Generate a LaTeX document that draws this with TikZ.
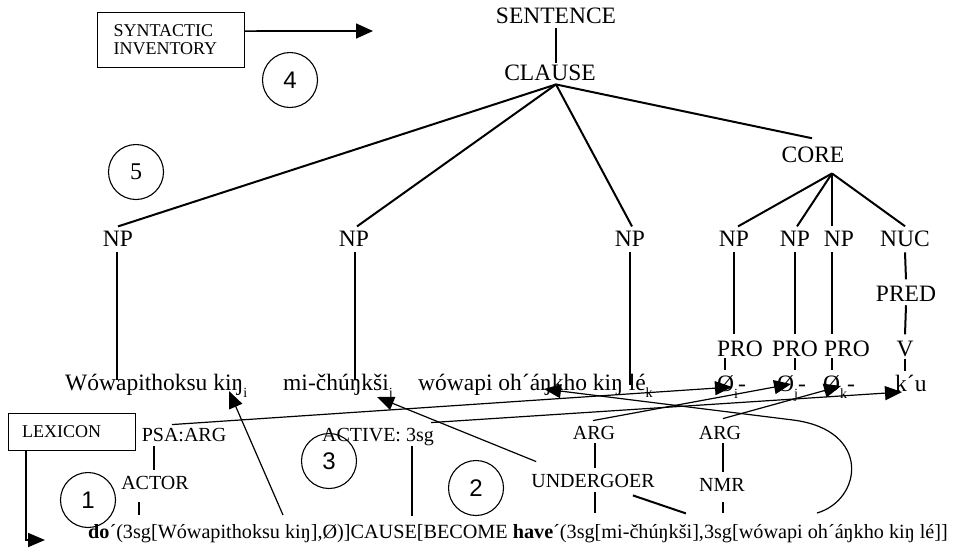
\documentclass[tikz,border=0pt]{standalone}
\usepackage{fontspec}
\setmainfont{Liberation Serif}
\newfontfamily\digitsans{Liberation Sans}
\usetikzlibrary{arrows.meta,calc}

% small lowered index letters (coreference subscripts)
\newcommand\lowsub[1]{\raisebox{-0.3em}{\fontsize{14pt}{14pt}\selectfont #1}}

\begin{document}
\begin{tikzpicture}[x=1pt,y=-1pt,
  tree/.style={font=\fontsize{23.5pt}{26pt}\selectfont, inner sep=0pt, anchor=base},
  word/.style={font=\fontsize{23.5pt}{26pt}\selectfont, inner sep=0pt, anchor=base west},
  role/.style={font=\fontsize{20pt}{22pt}\selectfont, inner sep=0pt, anchor=base},
  branch/.style={line width=2pt},
  link/.style={line width=1.2pt, -{Triangle[length=17pt,width=14pt]}},
  numcirc/.style={circle, draw, line width=1.1pt, minimum size=55pt, inner sep=0pt,
                  font=\digitsans\fontsize{24pt}{24pt}\selectfont},
  infobox/.style={draw, line width=1.1pt, font=\fontsize{18pt}{18pt}\selectfont,
                  align=left, anchor=north west, inner ysep=0pt}
]
\useasboundingbox[fill=white] (0,0) rectangle (955,547);

% ---------- component boxes ----------
\node[infobox, text width=115pt, inner xsep=16pt, minimum height=55pt] (synbox) at (97,12)
  {SYNTACTIC\\INVENTORY};
\node[infobox, text width=100pt, inner xsep=13.5pt, minimum height=37pt] (lexbox) at (8,413)
  {LEXICON};
\coordinate (synTip) at (373,31);
\coordinate (lexTip) at (45,540);
\draw[link, line width=1.6pt, -{Triangle[length=17pt,width=15pt]}] ($(synbox.east)+(0,-9)$) -- (synTip);
\draw[link, line width=1.8pt] ($(lexbox.south west)+(18,0)$) |- (lexTip);

% ---------- numbered steps ----------
\node[numcirc] (c4) at (290,80) {4};
\node[numcirc, font=\fontsize{24pt}{24pt}\selectfont] (c5) at (136,172) {5};
\node[numcirc] (c1) at (88,500) {1};
\node[numcirc] (c3) at (329,461) {3};
\node[numcirc] (c2) at (476,488) {2};

% ---------- layered structure of the clause ----------
\node[tree] (sentence) at (556,23) {SENTENCE};
\node[tree] (clause) at (550,80) {CLAUSE};
\node[tree] (core) at (813,162) {CORE};
\node[tree] (np1) at (118,246) {NP};
\node[tree] (np2) at (354,246) {NP};
\node[tree] (np3) at (630,246) {NP};
\node[tree] (np4) at (734,246) {NP};
\node[tree] (np5) at (795,246) {NP};
\node[tree] (np6) at (839,246) {NP};
\node[tree] (nuc) at (905,246) {NUC};
\node[tree] (pred) at (906,301) {PRED};
\node[tree] (pro1) at (740,356) {PRO};
\node[tree] (pro2) at (795,356) {PRO};
\node[tree] (pro3) at (847,356) {PRO};
\node[tree] (vv) at (905,356) {V};

\node[word] (w1) at (65,390) {Wówapithoksu kiŋ\lowsub{i}};
\node[word] (w2) at (283,390) {mi-čhúŋkši\lowsub{j}};
\node[word] (w3) at (418,390) {wówapi oh´áŋkho kiŋ lé\lowsub{k}};
\node[word] (oi) at (717,391) {Ø\lowsub{i}-};
\node[word] (oj) at (777,391) {Ø\lowsub{j}-};
\node[word] (ok) at (823,391) {Ø\lowsub{k}-};
\node[word] (ku) at (895,391) {k´u};

\coordinate (clauseJ) at ($(clause.south)+(6,4)$);
\coordinate (coreJ) at ($(core.south)+(19,11)$);

\draw[branch] ($(sentence.south)+(0,5)$) -- ($(sentence.south |- clause.north)+(0,-1)$);
\draw[branch] (clauseJ) -- ($(np1.north)+(0,-4)$);
\draw[branch] (clauseJ) -- ($(np2.north)+(3,-4)$);
\draw[branch] (clauseJ) -- ($(np3.north)+(2,-4)$);
\draw[branch] (clauseJ) -- ($(core.north)+(-1,-8)$);
\draw[branch] (coreJ) -- ($(np4.north)+(4,-4)$);
\draw[branch] (coreJ) -- ($(np5.north)+(2,-4)$);
\draw[branch] (coreJ) -- ($(coreJ |- np6.north)+(0,-4)$);
\draw[branch] (coreJ) -- ($(nuc.north)+(0,-4)$);

\draw[branch] ($(np1.south)+(-1,6)$) -- ($(np1.south |- w1.base)+(-1,-10)$);
\draw[branch] ($(np2.south)+(1,6)$) -- ($(np2.south |- w2.base)+(1,-10)$);
\draw[branch] ($(np3.south)+(0,6)$) -- ($(np3.south |- w3.base)+(0,-5)$);
\draw[branch] ($(np4.south)+(0,6)$) -- ($(np4.south |- pro1.north)+(0,-6)$);
\draw[branch] ($(np5.south)+(0,6)$) -- ($(pro2.north)+(0,-6)$);
\draw[branch] ($(coreJ |- np6.south)+(0,6)$) -- ($(coreJ |- pro3.north)+(0,-6)$);
\draw[branch] ($(nuc.south)+(0,6)$) -- ($(pred.north)+(0,-6)$);
\draw[branch] ($(pred.south)+(0,4)$) -- ($(vv.north)+(0,-6)$);

\draw[branch] ($(pro1.south)+(-15,2)$) -- ++(0,12);
\draw[branch] ($(pro2.south)+(0,2)$) -- ++(0,12);
\draw[branch] ($(pro3.south)+(-15,2)$) -- ++(0,12);
\draw[branch] ($(vv.south)+(0,2)$) -- ++(0,12);

% ---------- semantic representation and linking ----------
\node[role] (psa) at (184,441) {PSA:ARG};
\node[role] (actor) at (155,489) {ACTOR};
\node[role] (active) at (378,441) {ACTIVE: 3sg};
\node[role] (arg1) at (594,439) {ARG};
\node[role] (undergoer) at (593,487) {UNDERGOER};
\node[role] (arg2) at (720,439) {ARG};
\node[role] (nmr) at (722,491) {NMR};
\node[anchor=base west, inner sep=0pt, font=\fontsize{20.2pt}{22pt}\selectfont] (lsr) at (88,538)
  {\textbf{do}´(3sg[Wówapithoksu kiŋ],Ø)]CAUSE[BECOME \textbf{have}´(3sg[mi-čhúŋkši],3sg[wówapi oh´áŋkho kiŋ lé]]};

\draw[branch] ($(psa.south -| actor.north)+(-1,5)$) -- ($(actor.north)+(-1,-6)$);
\draw[branch] ($(actor.south)+(-16,13)$) -- ++(0,13);
\draw[branch] ($(active.south)+(34,0)$) -- ++(0,70);
\draw[branch] ($(arg1.south)+(1,4)$) -- ($(undergoer.north)+(2,-6)$);
\draw[branch] ($(undergoer.south)+(2,5)$) -- ++(0,21);
\draw[branch] ($(arg2.south -| nmr.north)+(1,4)$) -- ($(nmr.north)+(1,-6)$);
\draw[branch] ($(nmr.south)+(1,11)$) -- ++(0,11);
\draw[branch] ($(undergoer.south east)+(-22,8)$) -- ++(53,18);

\draw[link] ($(lsr.base west)+(195,-23)$) -- ($(w1.base west)+(164,1)$);
\draw[link] ($(undergoer.north west)+(5,-12)$) -- ($(w2.base west)+(94,7)$);
\draw[link] ($(psa.north)+(-12,-3)$) -- ($(oi.base west)+(15,-4)$);
\draw[link] ($(active.north east)+(-3,-5)$) -- ($(ku.base west)+(7,1)$);
\draw[link] ($(arg1.north)+(-1,-5)$) -- ($(oj.base west)+(14,-7)$);
\draw[link] ($(arg2.north)+(3,-7)$) -- ($(ok.base west)+(18,-5)$);
\draw[link] ($(lsr.base west)+(729,-25)$) .. controls (862,500) and (872,430) .. (793,420)
  -- ($(w3.base west)+(126,-1)$);
\end{tikzpicture}
\end{document}
